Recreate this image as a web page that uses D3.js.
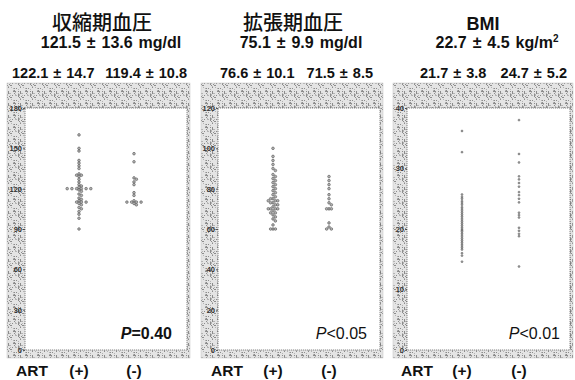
<!DOCTYPE html>
<html>
<head>
<meta charset="utf-8">
<script src="https://cdn.jsdelivr.net/npm/d3@7"></script>
<style>
  html, body { margin: 0; padding: 0; background: #fff; }
  svg { display: block; }
</style>
</head>
<body>
<svg id="chart" width="575" height="380"></svg>
<script>
// ---- data ----
const groups = ["(+)", "(-)"];

const sbpArtPos = [160, 150, 148, 141, 139, 137, 135, 131, 130, 130, 129, 127, 125, 123, 122, 121,
  120, 120, 120, 120, 120, 120, 119, 118, 116, 115, 113, 112, 111, 110, 110, 110, 109, 108, 106,
  105, 103, 101, 98, 90];
const sbpArtNeg = [146, 140, 128, 127, 125, 123, 117, 115, 111, 110, 110, 110, 110, 109, 108];

const dbpArtPos = [100, 96, 94, 92, 90, 89, 87, 86, 85, 84, 83, 82, 81, 80, 79, 78, 77, 76, 75, 75,
  74, 74, 74, 73, 73, 72, 72, 71, 70, 70, 70, 70, 69, 68, 68, 67, 66, 65, 64, 62, 60, 60, 60];
const dbpArtNeg = [86, 84, 82, 80, 77, 75, 73, 72, 70, 70, 70, 63, 61, 60, 60];

const bmiArtPos = [36.2, 32.7, 25.7, 25.3, 25.0, 24.6, 24.3, 24.0, 23.6, 23.3, 23.0, 22.7, 22.4,
  22.1, 21.8, 21.5, 21.2, 20.9, 20.6, 20.3, 20.0, 19.8, 19.6, 19.3, 19.0, 18.7, 18.4, 18.1, 17.8,
  17.5, 17.2, 16.9, 16.6, 16.0, 15.6, 14.6];
const bmiArtNeg = [38.0, 32.4, 31.0, 28.7, 28.2, 27.6, 27.0, 26.1, 25.6, 25.0, 24.4, 22.7, 22.3,
  21.9, 20.2, 19.7, 19.2, 18.8, 13.8];

const sbpTicks = [0, 30, 60, 90, 120, 150, 180];
const dbpTicks = [0, 20, 40, 60, 80, 100, 120];
const bmiTicks = [0, 10, 20, 30, 40];

const titles = ["収縮期血圧", "拡張期血圧", "BMI"];
const overall = ["121.5 ± 13.6 mg/dl", "75.1 ± 9.9 mg/dl", "22.7 ± 4.5 kg/m"];
const groupStats = [
  ["122.1 ± 14.7", "119.4 ± 10.8"],
  ["76.6 ± 10.1", "71.5 ± 8.5"],
  ["21.7 ± 3.8", "24.7 ± 5.2"]
];
const pLabels = [["P", "=0.40"], ["P", "<0.05"], ["P", "<0.01"]];

// ---- layout ----
const panels = [
  { series: [sbpArtPos, sbpArtNeg], ticks: sbpTicks, max: 180,
    box: [7, 83, 190, 358], plot: [25, 108, 187, 350], gx: [79, 134],
    titleX: 102, overallX: 111, statL: 12, statR: 187, pR: 172, pBold: true,
    r: 1.35, gap: 1.75, artX: 16 },
  { series: [dbpArtPos, dbpArtNeg], ticks: dbpTicks, max: 120,
    box: [201, 83, 383, 358], plot: [218, 108, 380, 350], gx: [273, 329],
    titleX: 293, overallX: 301, statL: 220, statR: 373, pR: 367, pBold: false,
    r: 1.35, gap: 1.75, artX: 211 },
  { series: [bmiArtPos, bmiArtNeg], ticks: bmiTicks, max: 40,
    box: [393, 83, 573, 358], plot: [407, 108, 570, 350], gx: [462, 519],
    titleX: 483, overallX: 497, statL: 420, statR: 567, pR: 560, pBold: false,
    r: 0.95, gap: 1.15, artX: 401 }
];

const svg = d3.select("#chart");

// speckled grey frame fill (fixed hash, 12x12 tile)
const defs = svg.append("defs");
const tile = 12;
const pat = defs.append("pattern").attr("id", "speckle")
  .attr("patternUnits", "userSpaceOnUse").attr("width", tile).attr("height", tile);
pat.append("rect").attr("width", tile).attr("height", tile).attr("fill", "#e4e4e4");
for (let yy = 0; yy < tile; yy++) {
  for (let xx = 0; xx < tile; xx++) {
    const h = ((xx * 73856093) ^ (yy * 19349663) ^ 0x5bd1e995) >>> 0;
    const m = (h % 97);
    if (m < 24) {
      pat.append("rect").attr("x", xx).attr("y", yy).attr("width", 1).attr("height", 1)
        .attr("fill", m < 10 ? "#8c8c8c" : "#b4b4b4");
    }
  }
}

const boldFont = "'Liberation Sans', Arial, sans-serif";

// place points of one group so that equal values spread sideways
function dodge(values, y, cx, diam, step) {
  const placed = [];
  const sorted = values.slice().sort((a, b) => b - a);
  sorted.forEach(v => {
    const py = y(v);
    for (let i = 0; i < 40; i++) {
      const k = i === 0 ? 0 : (i % 2 ? (i + 1) / 2 : -i / 2);
      const px = cx + k * step;
      const hit = placed.some(p => (p.x - px) ** 2 + (p.y - py) ** 2 < diam * diam);
      if (!hit) { placed.push({ x: px, y: py, v }); break; }
    }
  });
  return placed;
}

panels.forEach((p, i) => {
  const g = svg.append("g");
  const [bx0, by0, bx1, by1] = p.box;
  const [px0, py0, px1, py1] = p.plot;

  g.append("rect").attr("x", bx0).attr("y", by0)
    .attr("width", bx1 - bx0).attr("height", by1 - by0)
    .attr("fill", "url(#speckle)").attr("stroke", "#c4c4c4").attr("stroke-width", 0.5);

  g.append("rect").attr("x", px0).attr("y", py0)
    .attr("width", px1 - px0).attr("height", py1 - py0)
    .attr("fill", "#fff").attr("stroke", "#666").attr("stroke-width", 0.8)
    .attr("stroke-dasharray", "1.2,0.8");

  const y = d3.scaleLinear().domain([0, p.max]).range([py1, py0]);
  const x = d3.scaleOrdinal().domain(groups).range(p.gx);

  const axis = d3.axisLeft(y).tickValues(p.ticks).tickSize(2).tickPadding(1);
  const ax = g.append("g").attr("transform", `translate(${px0},0)`).call(axis);
  ax.select(".domain").remove();
  ax.selectAll(".tick line").attr("stroke", "#333").attr("stroke-width", 0.8);
  ax.selectAll(".tick text").attr("font-family", boldFont).attr("font-weight", "bold")
    .attr("font-size", 7.5).attr("fill", "#333");

  // points
  groups.forEach((grp, j) => {
    const d = p.r * p.gap;
    const pts = dodge(p.series[j], y, x(grp), d, p.r * 1.75);
    g.selectAll(null).data(pts).enter().append("circle")
      .attr("cx", d => d.x).attr("cy", d => d.y).attr("r", p.r)
      .attr("fill", "#b0b0b0").attr("stroke", "#444").attr("stroke-width", 0.5);
  });

  // headings
  g.append("text").attr("x", p.titleX).attr("y", 30).attr("text-anchor", "middle")
    .attr("font-family", i === 2 ? boldFont : "'Noto Sans CJK JP', sans-serif")
    .attr("font-weight", i === 2 ? "bold" : "500")
    .attr("font-size", i === 2 ? 18 : 20).attr("fill", "#111").text(titles[i]);

  const ov = g.append("text").attr("x", p.overallX).attr("y", 48).attr("text-anchor", "middle")
    .attr("font-family", boldFont).attr("font-weight", "bold").attr("font-size", 16)
    .attr("word-spacing", 1.5).attr("fill", "#111").text(overall[i]);
  if (i === 2) ov.append("tspan").attr("dy", -6).attr("font-size", 10).text("2");

  g.append("text").attr("x", p.statL).attr("y", 78).attr("text-anchor", "start")
    .attr("font-family", boldFont).attr("font-weight", "bold").attr("font-size", 14.5)
    .attr("word-spacing", 1).attr("fill", "#111").text(groupStats[i][0]);
  g.append("text").attr("x", p.statR).attr("y", 78).attr("text-anchor", "end")
    .attr("font-family", boldFont).attr("font-weight", "bold").attr("font-size", 14.5)
    .attr("word-spacing", 1).attr("fill", "#111").text(groupStats[i][1]);

  // p value
  const pt = g.append("text").attr("x", p.pR).attr("y", 339).attr("text-anchor", "end")
    .attr("font-family", boldFont).attr("font-weight", p.pBold ? "bold" : "normal")
    .attr("font-size", 16).attr("fill", "#111");
  pt.append("tspan").attr("font-style", "italic").text(pLabels[i][0]);
  pt.append("tspan").text(pLabels[i][1]);

  // group labels
  g.append("text").attr("x", p.artX).attr("y", 376)
    .attr("font-family", boldFont).attr("font-weight", "bold").attr("font-size", 15.5)
    .attr("fill", "#111").text("ART");
  groups.forEach(grp => {
    g.append("text").attr("x", x(grp)).attr("y", 376).attr("text-anchor", "middle")
      .attr("font-family", boldFont).attr("font-weight", "bold").attr("font-size", 15.5)
      .attr("fill", "#111").text(grp);
  });
});
</script>
</body>
</html>
